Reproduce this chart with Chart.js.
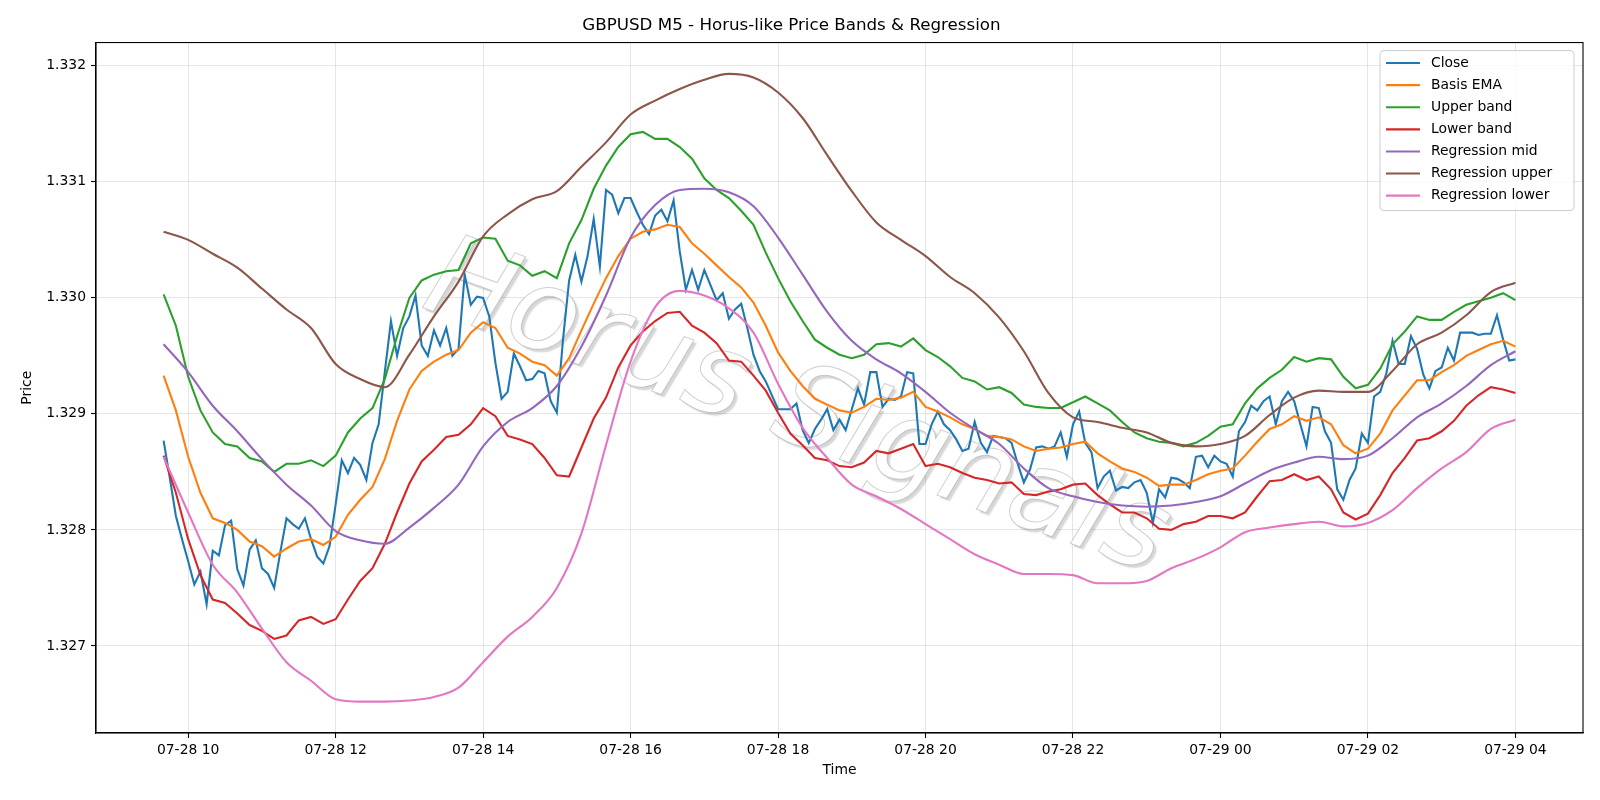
<!DOCTYPE html>
<html>
<head>
<meta charset="utf-8">
<title>GBPUSD M5 - Horus-like Price Bands & Regression</title>
<script src="https://cdn.jsdelivr.net/npm/chart.js@4.4.1/dist/chart.umd.min.js"></script>
<style>
  html, body { margin: 0; padding: 0; background: #ffffff; }
  #wrap { width: 1600px; height: 800px; }
</style>
</head>
<body>
<div id="wrap"><canvas id="chart" width="1600" height="800"></canvas></div>
<script>
// M5 closes, bar 0 = 07-28 09:40, last bar = 07-29 04:00
const closeVals = [
  1.32877, 1.32845, 1.32812, 1.32792, 1.32773, 1.32753, 1.32764, 1.32736, 1.32782, 1.32778, 1.32804, 1.32808,
  1.32766, 1.32752, 1.32783, 1.32791, 1.32767, 1.32762, 1.32750, 1.32781, 1.32810, 1.32805, 1.32801, 1.32810,
  1.32792, 1.32777, 1.32771, 1.32786, 1.32822, 1.32860, 1.32849, 1.32862, 1.32856, 1.32843, 1.32875, 1.32891,
  1.32936, 1.32980, 1.32950, 1.32974, 1.32984, 1.33002, 1.32959, 1.32950, 1.32972, 1.32959, 1.32974, 1.32950,
  1.32956, 1.33020, 1.32994, 1.33001, 1.33000, 1.32984, 1.32944, 1.32913, 1.32919, 1.32952, 1.32941, 1.32929,
  1.32930, 1.32937, 1.32935, 1.32911, 1.32901, 1.32964, 1.33015, 1.33037, 1.33014, 1.33036, 1.33068, 1.33027,
  1.33093, 1.33089, 1.33073, 1.33086, 1.33086, 1.33074, 1.33063, 1.33055, 1.33071, 1.33076, 1.33066, 1.33084,
  1.33040, 1.33007, 1.33024, 1.33007, 1.33024, 1.33011, 1.32998, 1.33004, 1.32982, 1.32990, 1.32995, 1.32974,
  1.32951, 1.32937, 1.32928, 1.32916, 1.32904, 1.32904, 1.32904, 1.32909, 1.32886, 1.32875, 1.32887, 1.32895,
  1.32904, 1.32886, 1.32895, 1.32886, 1.32904, 1.32922, 1.32908, 1.32936, 1.32936, 1.32906, 1.32913, 1.32912,
  1.32915, 1.32936, 1.32935, 1.32874, 1.32874, 1.32891, 1.32902, 1.32891, 1.32886, 1.32878, 1.32868, 1.32870,
  1.32893, 1.32875, 1.32867, 1.32881, 1.32880, 1.32879, 1.32875, 1.32857, 1.32841, 1.32852, 1.32871, 1.32872,
  1.32870, 1.32872, 1.32884, 1.32863, 1.32891, 1.32902, 1.32875, 1.32867, 1.32836, 1.32846, 1.32851, 1.32834,
  1.32837, 1.32836, 1.32841, 1.32843, 1.32832, 1.32806, 1.32835, 1.32828, 1.32845, 1.32844, 1.32841, 1.32836,
  1.32863, 1.32864, 1.32854, 1.32864, 1.32859, 1.32857, 1.32846, 1.32885, 1.32893, 1.32907, 1.32903, 1.32911,
  1.32915, 1.32891, 1.32911, 1.32919, 1.32911, 1.32891, 1.32872, 1.32906, 1.32905, 1.32885, 1.32875, 1.32835,
  1.32826, 1.32843, 1.32853, 1.32883, 1.32875, 1.32915, 1.32919, 1.32935, 1.32963, 1.32943, 1.32943, 1.32967,
  1.32956, 1.32934, 1.32922, 1.32937, 1.32940, 1.32957, 1.32946, 1.32970, 1.32970, 1.32970, 1.32968, 1.32969,
  1.32969, 1.32985, 1.32964, 1.32946, 1.32947
];

// EMA bands, read every 2 bars (10 min)
const BAND_STEP = 2;

const basisEma = [
  1.32933, 1.32903, 1.32863, 1.32832, 1.32810, 1.32806, 1.32800, 1.32790, 1.32786, 1.32777, 1.32784, 1.32790,
  1.32792, 1.32787, 1.32794, 1.32813, 1.32826, 1.32837, 1.32861, 1.32894, 1.32921, 1.32937, 1.32945, 1.32951,
  1.32955, 1.32970, 1.32979, 1.32974, 1.32957, 1.32952, 1.32945, 1.32942, 1.32933, 1.32948, 1.32972, 1.32995,
  1.33017, 1.33036, 1.33051, 1.33057, 1.33059, 1.33063, 1.33061, 1.33047, 1.33038, 1.33028, 1.33018, 1.33009,
  1.32996, 1.32976, 1.32953, 1.32937, 1.32924, 1.32913, 1.32908, 1.32903, 1.32901, 1.32906, 1.32913, 1.32912,
  1.32914, 1.32919, 1.32906, 1.32902, 1.32897, 1.32891, 1.32887, 1.32881, 1.32880, 1.32878, 1.32872, 1.32868,
  1.32870, 1.32871, 1.32874, 1.32876, 1.32866, 1.32859, 1.32853, 1.32850, 1.32845, 1.32838, 1.32839, 1.32839,
  1.32843, 1.32848, 1.32851, 1.32853, 1.32864, 1.32876, 1.32887, 1.32891, 1.32898, 1.32894, 1.32897, 1.32891,
  1.32873, 1.32866, 1.32870, 1.32883, 1.32903, 1.32916, 1.32929, 1.32929, 1.32936, 1.32942, 1.32950, 1.32955,
  1.32960, 1.32963, 1.32958
];

const upperBand = [
  1.33003, 1.32976, 1.32932, 1.32903, 1.32884, 1.32874, 1.32872, 1.32862, 1.32859, 1.32850, 1.32857, 1.32857,
  1.32860, 1.32855, 1.32864, 1.32884, 1.32896, 1.32905, 1.32930, 1.32967, 1.33000, 1.33015, 1.33020, 1.33023,
  1.33024, 1.33047, 1.33052, 1.33051, 1.33032, 1.33028, 1.33019, 1.33023, 1.33017, 1.33047, 1.33067, 1.33094,
  1.33114, 1.33130, 1.33141, 1.33143, 1.33137, 1.33137, 1.33130, 1.33120, 1.33103, 1.33093, 1.33086, 1.33075,
  1.33063, 1.33039, 1.33017, 1.32997, 1.32980, 1.32964, 1.32957, 1.32951, 1.32948, 1.32951, 1.32960, 1.32961,
  1.32958, 1.32965, 1.32955, 1.32949, 1.32941, 1.32931, 1.32928, 1.32921, 1.32923, 1.32918, 1.32908, 1.32906,
  1.32905, 1.32905, 1.32910, 1.32915, 1.32909, 1.32903, 1.32893, 1.32884, 1.32879, 1.32876, 1.32875, 1.32872,
  1.32875, 1.32881, 1.32889, 1.32891, 1.32909, 1.32922, 1.32931, 1.32938, 1.32949, 1.32945, 1.32948, 1.32947,
  1.32932, 1.32922, 1.32925, 1.32939, 1.32960, 1.32971, 1.32984, 1.32981, 1.32981, 1.32988, 1.32994, 1.32997,
  1.33000, 1.33004, 1.32998
];

const lowerBand = [
  1.32864, 1.32832, 1.32792, 1.32761, 1.32740, 1.32737, 1.32728, 1.32718, 1.32713, 1.32706, 1.32709, 1.32722,
  1.32725, 1.32719, 1.32723, 1.32740, 1.32756, 1.32767, 1.32788, 1.32815, 1.32840, 1.32859, 1.32869, 1.32880,
  1.32882, 1.32891, 1.32905, 1.32898, 1.32881, 1.32878, 1.32874, 1.32862, 1.32847, 1.32846, 1.32871, 1.32896,
  1.32914, 1.32940, 1.32959, 1.32971, 1.32980, 1.32987, 1.32988, 1.32976, 1.32970, 1.32961, 1.32946, 1.32945,
  1.32933, 1.32920, 1.32901, 1.32883, 1.32873, 1.32862, 1.32860, 1.32855, 1.32854, 1.32858, 1.32868, 1.32866,
  1.32870, 1.32874, 1.32855, 1.32857, 1.32854, 1.32849, 1.32845, 1.32843, 1.32840, 1.32841, 1.32831, 1.32830,
  1.32833, 1.32835, 1.32839, 1.32840, 1.32830, 1.32822, 1.32815, 1.32815, 1.32810, 1.32801, 1.32800, 1.32805,
  1.32807, 1.32812, 1.32812, 1.32810, 1.32815, 1.32829, 1.32842, 1.32843, 1.32848, 1.32843, 1.32846, 1.32835,
  1.32815, 1.32809, 1.32814, 1.32830, 1.32849, 1.32862, 1.32877, 1.32879, 1.32885, 1.32894, 1.32907, 1.32916,
  1.32923, 1.32921, 1.32918
];

// regression channel, read every 4 bars (20 min)
const REG_STEP = 4;

const regMid = [
  1.32960, 1.32936, 1.32907, 1.32885, 1.32861, 1.32839, 1.32821, 1.32799, 1.32791, 1.32788, 1.32802, 1.32819,
  1.32839, 1.32872, 1.32893, 1.32905, 1.32924, 1.32958, 1.33002, 1.33052, 1.33080, 1.33093, 1.33094, 1.33091,
  1.33079, 1.33052, 1.33020, 1.32988, 1.32963, 1.32947, 1.32935, 1.32919, 1.32901, 1.32887, 1.32874, 1.32853,
  1.32836, 1.32829, 1.32824, 1.32821, 1.32820, 1.32821, 1.32824, 1.32829, 1.32840, 1.32851, 1.32858, 1.32863,
  1.32861, 1.32864, 1.32879, 1.32897, 1.32909, 1.32924, 1.32942, 1.32954
];

const regUpper = [
  1.33057, 1.33050, 1.33038, 1.33026, 1.33008, 1.32990, 1.32974, 1.32943, 1.32930, 1.32923, 1.32951, 1.32984,
  1.33014, 1.33053, 1.33072, 1.33085, 1.33092, 1.33113, 1.33134, 1.33158, 1.33170, 1.33180, 1.33188, 1.33193,
  1.33190, 1.33177, 1.33155, 1.33123, 1.33092, 1.33065, 1.33050, 1.33036, 1.33018, 1.33004, 1.32983, 1.32954,
  1.32918, 1.32897, 1.32893, 1.32888, 1.32884, 1.32875, 1.32872, 1.32874, 1.32881, 1.32899, 1.32914, 1.32920,
  1.32919, 1.32919, 1.32937, 1.32960, 1.32970, 1.32985, 1.33005, 1.33013
];

const regLower = [
  1.32863, 1.32815, 1.32770, 1.32746, 1.32715, 1.32686, 1.32670, 1.32654, 1.32652, 1.32652, 1.32653, 1.32656,
  1.32664, 1.32686, 1.32708, 1.32725, 1.32750, 1.32797, 1.32873, 1.32945, 1.32992, 1.33006, 1.33002, 1.32991,
  1.32970, 1.32926, 1.32888, 1.32862, 1.32839, 1.32829, 1.32818, 1.32805, 1.32792, 1.32779, 1.32770, 1.32762,
  1.32762, 1.32761, 1.32754, 1.32754, 1.32756, 1.32767, 1.32775, 1.32785, 1.32798, 1.32802, 1.32805, 1.32807,
  1.32803, 1.32806, 1.32817, 1.32836, 1.32853, 1.32867, 1.32887, 1.32895
];

// x ticks every 2 hours (24 bars), first one at 07-28 10:00
const tickBars = [4, 28, 52, 76, 100, 124, 148, 172, 196, 220];
const tickLabels = ['07-28 10', '07-28 12', '07-28 14', '07-28 16', '07-28 18',
                    '07-28 20', '07-28 22', '07-29 00', '07-29 02', '07-29 04'];
const priceTicks = [1.327, 1.328, 1.329, 1.330, 1.331, 1.332];

const seriesNames = ['Close', 'Basis EMA', 'Upper band', 'Lower band',
                     'Regression mid', 'Regression upper', 'Regression lower'];
const seriesColors = ['#1f77b4', '#ff7f0e', '#2ca02c', '#d62728', '#9467bd', '#8c564b', '#e377c2'];

const FONT = '"DejaVu Sans", "Liberation Sans", sans-serif';

// matplotlib-like autoscale with 5% margins
const lastBar = closeVals.length - 1;
const allVals = [].concat(closeVals, basisEma, upperBand, lowerBand, regMid, regUpper, regLower);
const yLo = Math.min(...allVals), yHi = Math.max(...allVals);
const yPad = (yHi - yLo) * 0.05;
const xPad = lastBar * 0.05;

const toPts = (arr, step) => arr.map((y, k) => ({ x: k * step, y }));

const seriesData = [
  toPts(closeVals, 1),
  toPts(basisEma, BAND_STEP),
  toPts(upperBand, BAND_STEP),
  toPts(lowerBand, BAND_STEP),
  toPts(regMid, REG_STEP),
  toPts(regUpper, REG_STEP),
  toPts(regLower, REG_STEP)
];

const datasets = seriesNames.map((name, i) => ({
  label: name,
  data: seriesData[i],
  borderColor: seriesColors[i],
  backgroundColor: seriesColors[i],
  borderWidth: 2.1,
  pointRadius: 0,
  tension: 0,
  cubicInterpolationMode: i >= 4 ? 'monotone' : 'default',  // regression lines are smooth curves
  fill: false,
  order: seriesNames.length - i   // later series drawn on top, like pyplot
}));

// gray watermark behind the lines
const watermark = {
  id: 'watermark',
  beforeDatasetsDraw(chart) {
    const ctx = chart.ctx;
    ctx.save();
    ctx.translate(796, 412);
    ctx.rotate(20 * Math.PI / 180);
    ctx.font = 'italic 114px ' + FONT;
    ctx.textAlign = 'center';
    ctx.textBaseline = 'middle';
    ctx.shadowColor = 'rgba(0,0,0,0.16)';
    ctx.shadowBlur = 1.5;
    ctx.shadowOffsetX = 3;
    ctx.shadowOffsetY = 3;
    ctx.fillStyle = '#ffffff';
    ctx.fillText('Horus Signals', 0, 0);
    ctx.shadowColor = 'transparent';
    ctx.strokeStyle = 'rgba(150,150,150,0.45)';
    ctx.lineWidth = 1;
    ctx.strokeText('Horus Signals', 0, 0);
    ctx.restore();
  }
};

// box round the plot + legend in the upper right
const frameAndLegend = {
  id: 'frameAndLegend',
  afterDraw(chart) {
    const { ctx, chartArea: a } = chart;
    ctx.save();
    ctx.strokeStyle = '#000';
    ctx.lineWidth = 1.1;
    ctx.strokeRect(a.left, a.top, a.right - a.left, a.bottom - a.top);

    const bx = a.right - 203, by = a.top + 8, bw = 194, bh = 160;
    ctx.beginPath();
    ctx.roundRect(bx, by, bw, bh, 4);
    ctx.fillStyle = 'rgba(255,255,255,0.8)';
    ctx.fill();
    ctx.strokeStyle = '#cccccc';
    ctx.lineWidth = 1;
    ctx.stroke();

    ctx.font = '13.9px ' + FONT;
    ctx.textBaseline = 'middle';
    ctx.textAlign = 'left';
    seriesNames.forEach((name, i) => {
      const y = by + 12.5 + i * 22.1;
      ctx.strokeStyle = seriesColors[i];
      ctx.lineWidth = 2.1;
      ctx.beginPath();
      ctx.moveTo(bx + 6, y);
      ctx.lineTo(bx + 40, y);
      ctx.stroke();
      ctx.fillStyle = '#000';
      ctx.fillText(name, bx + 51, y);
    });
    ctx.restore();
  }
};

const gridStyle = {
  color: 'rgba(176,176,176,0.32)',
  lineWidth: 1,
  tickColor: '#000',
  tickLength: 5,
  tickWidth: 1.1
};

new Chart(document.getElementById('chart').getContext('2d'), {
  type: 'line',
  data: { datasets },
  options: {
    responsive: false,
    animation: false,
    events: [],
    layout: { padding: { left: 0, right: 17, top: 0, bottom: 0 } },
    scales: {
      x: {
        type: 'linear',
        min: -xPad,
        max: lastBar + xPad,
        grid: gridStyle,
        border: { display: true, color: '#000', width: 1.1 },
        afterBuildTicks: s => { s.ticks = tickBars.map(v => ({ value: v })); },
        afterFit: s => { s.height = 67; },
        ticks: {
          autoSkip: false,
          maxRotation: 0,
          padding: 4,
          color: '#000',
          font: { family: FONT, size: 13.9 },
          callback: v => tickLabels[tickBars.indexOf(v)]
        },
        title: {
          display: true,
          text: 'Time',
          color: '#000',
          font: { family: FONT, size: 13.9 },
          padding: { top: 0, bottom: 21 }
        }
      },
      y: {
        type: 'linear',
        min: yLo - yPad,
        max: yHi + yPad,
        grid: gridStyle,
        border: { display: true, color: '#000', width: 1.1 },
        afterBuildTicks: s => { s.ticks = priceTicks.map(v => ({ value: v })); },
        afterFit: s => { s.width = 96; },
        ticks: {
          padding: 5,
          color: '#000',
          font: { family: FONT, size: 13.9 },
          callback: v => v.toFixed(3)
        },
        title: {
          display: true,
          text: 'Price',
          color: '#000',
          font: { family: FONT, size: 13.9 },
          padding: { top: 19, bottom: 0 }
        }
      }
    },
    plugins: {
      legend: { display: false },
      tooltip: { enabled: false },
      title: {
        display: true,
        text: 'GBPUSD M5 - Horus-like Price Bands & Regression',
        color: '#000',
        font: { family: FONT, size: 16.7, weight: 'normal' },
        padding: { top: 16, bottom: 6.5 }
      }
    }
  },
  plugins: [watermark, frameAndLegend]
});
</script>
</body>
</html>
